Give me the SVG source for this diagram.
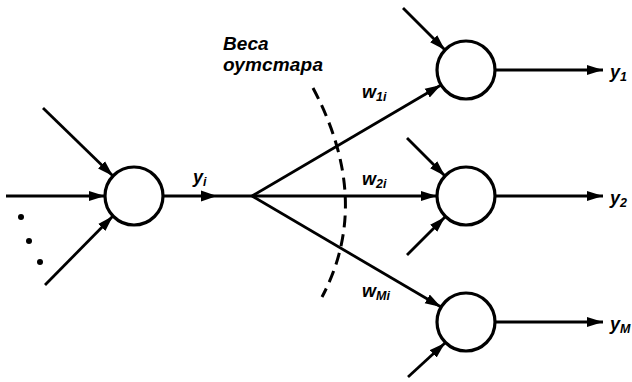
<svg xmlns="http://www.w3.org/2000/svg" width="632" height="382" viewBox="0 0 632 382">
<defs>
<marker id="ah" viewBox="0 0 16 11" refX="16" refY="5.5" markerWidth="16" markerHeight="11" markerUnits="userSpaceOnUse" orient="auto">
<path d="M0,0.5 L16,5.5 L0,10.5 Z" fill="#000"/>
</marker>
<style>
.n{fill:#fff;stroke:#000;stroke-width:3.2}
.e{stroke:#000;stroke-width:2.8;fill:none}
.a{marker-end:url(#ah)}
.t{font-family:"Liberation Sans",Arial,sans-serif;font-weight:bold;font-style:italic;font-size:18px;fill:#000}
.s{font-size:12.5px}
.c{font-family:"Liberation Sans",Arial,sans-serif;font-weight:bold;font-style:italic;font-size:19px;fill:#000}
</style>
</defs>
<rect width="632" height="382" fill="#fff"/>
<g id="connectors">
<line class="e a" x1="43" y1="108" x2="113" y2="176"/>
<line class="e a" x1="6" y1="196" x2="105" y2="196"/>
<line class="e a" x1="45" y1="285" x2="113" y2="216"/>
<line class="e" x1="163" y1="196" x2="252" y2="196"/>
<path d="M201,190.5 L217,196 L201,201.5 Z" fill="#000"/>
<line class="e a" x1="252" y1="196" x2="441" y2="85"/>
<line class="e a" x1="252" y1="196" x2="437" y2="196"/>
<line class="e a" x1="252" y1="196" x2="441" y2="307"/>
<line class="e a" x1="403" y1="8" x2="445" y2="50"/>
<line class="e a" x1="407" y1="138" x2="445" y2="176"/>
<line class="e a" x1="407" y1="255" x2="445" y2="217"/>
<line class="e a" x1="408" y1="377" x2="445" y2="343"/>
<line class="e a" x1="495" y1="70" x2="603" y2="70"/>
<line class="e a" x1="495" y1="196" x2="603" y2="196"/>
<line class="e a" x1="495" y1="322" x2="603" y2="322"/>
<path d="M313,88 Q373,201 322,297" fill="none" stroke="#000" stroke-width="3" stroke-dasharray="12 7"/>
</g>
<g id="dots">
<circle cx="21" cy="217" r="3"/>
<circle cx="29" cy="241" r="3"/>
<circle cx="40" cy="262" r="3"/>
</g>
<g id="node-i"><circle class="n" cx="134" cy="196" r="29"/></g>
<g id="node-1"><circle class="n" cx="466" cy="70" r="29"/></g>
<g id="node-2"><circle class="n" cx="466" cy="196" r="29"/></g>
<g id="node-M"><circle class="n" cx="466" cy="322" r="29"/></g>
<g id="labels">
<text class="c" x="223" y="50">Веса</text>
<text class="c" x="223" y="71" textLength="100">оутстара</text>
<text class="t" x="193" y="183">y<tspan class="s" dy="3">i</tspan></text>
<text class="t" x="362" y="98">w<tspan class="s" dy="3">1i</tspan></text>
<text class="t" x="362" y="185">w<tspan class="s" dy="3">2i</tspan></text>
<text class="t" x="362" y="297">w<tspan class="s" dy="3">Mi</tspan></text>
<text class="t" x="610" y="78">y<tspan class="s" dy="3">1</tspan></text>
<text class="t" x="610" y="204">y<tspan class="s" dy="3">2</tspan></text>
<text class="t" x="610" y="330">y<tspan class="s" dy="3">M</tspan></text>
</g>
</svg>
